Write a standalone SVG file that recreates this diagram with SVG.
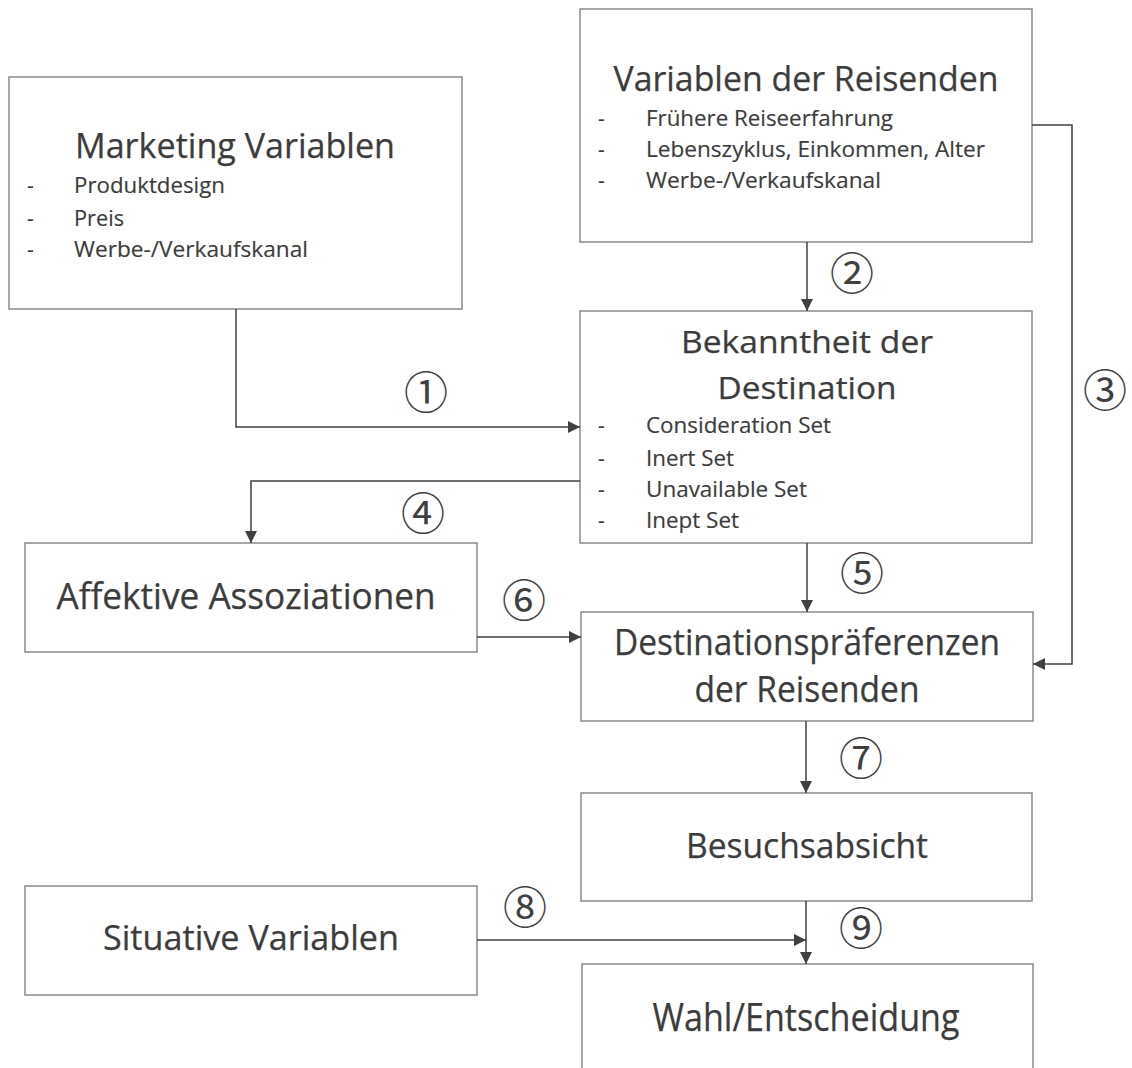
<svg xmlns="http://www.w3.org/2000/svg" width="1132" height="1068" viewBox="0 0 1132 1068">
<defs>
<style>
.box{fill:#fff;stroke:#8a8a8a;stroke-width:1.5}
.t{font-family:"Open Sans","Noto Sans","DejaVu Sans",sans-serif;fill:#3c3c3c;stroke:#3c3c3c;stroke-width:0.25;text-anchor:middle}
.b{font-family:"Open Sans","Noto Sans","DejaVu Sans",sans-serif;fill:#3c3c3c;stroke:#3c3c3c;stroke-width:0.15;font-size:21px}
.c{stroke:#404040;stroke-width:1.5;fill:none}
.n{font-family:"Noto Sans CJK JP","Noto Sans CJK SC","DejaVu Sans",sans-serif;fill:#404040;font-size:44px;text-anchor:middle;dominant-baseline:central}
</style>
<marker id="ah" markerUnits="userSpaceOnUse" markerWidth="12" markerHeight="12" refX="12" refY="6" orient="auto">
<path d="M0,0 L12,6 L0,12 Z" fill="#404040"/>
</marker>
</defs>
<rect width="1132" height="1068" fill="#fff"/>

<g id="marketing">
<rect class="box" x="9" y="77" width="453" height="232"/>
<text class="t" x="235" y="158" font-size="35" textLength="320" lengthAdjust="spacingAndGlyphs">Marketing Variablen</text>
<text class="b" x="27" y="193">-</text><text class="b" x="74" y="193" textLength="151" lengthAdjust="spacingAndGlyphs">Produktdesign</text>
<text class="b" x="27" y="226">-</text><text class="b" x="74" y="226" textLength="50" lengthAdjust="spacingAndGlyphs">Preis</text>
<text class="b" x="27" y="257">-</text><text class="b" x="74" y="257" textLength="234" lengthAdjust="spacingAndGlyphs">Werbe-/Verkaufskanal</text>
</g>

<g id="reisende">
<rect class="box" x="580" y="9" width="452" height="233"/>
<text class="t" x="806" y="91" font-size="35" textLength="385" lengthAdjust="spacingAndGlyphs">Variablen der Reisenden</text>
<text class="b" x="598" y="126">-</text><text class="b" x="646" y="126" textLength="247" lengthAdjust="spacingAndGlyphs">Frühere Reiseerfahrung</text>
<text class="b" x="598" y="157">-</text><text class="b" x="646" y="157" textLength="339" lengthAdjust="spacingAndGlyphs">Lebenszyklus, Einkommen, Alter</text>
<text class="b" x="598" y="188">-</text><text class="b" x="646" y="188" textLength="235" lengthAdjust="spacingAndGlyphs">Werbe-/Verkaufskanal</text>
</g>

<g id="bekanntheit">
<rect class="box" x="580" y="311" width="452" height="232"/>
<text class="t" x="807" y="353" font-size="31" textLength="252" lengthAdjust="spacingAndGlyphs">Bekanntheit der</text>
<text class="t" x="807" y="399" font-size="31" textLength="179" lengthAdjust="spacingAndGlyphs">Destination</text>
<text class="b" x="598" y="433">-</text><text class="b" x="646" y="433" textLength="185" lengthAdjust="spacingAndGlyphs">Consideration Set</text>
<text class="b" x="598" y="466">-</text><text class="b" x="646" y="466" textLength="88" lengthAdjust="spacingAndGlyphs">Inert Set</text>
<text class="b" x="598" y="497">-</text><text class="b" x="646" y="497" textLength="161" lengthAdjust="spacingAndGlyphs">Unavailable Set</text>
<text class="b" x="598" y="528">-</text><text class="b" x="646" y="528" textLength="93" lengthAdjust="spacingAndGlyphs">Inept Set</text>
</g>

<g id="affektive">
<rect class="box" x="25" y="543" width="452" height="109"/>
<text class="t" x="246" y="609" font-size="36" textLength="379" lengthAdjust="spacingAndGlyphs">Affektive Assoziationen</text>
</g>

<g id="praeferenzen">
<rect class="box" x="581" y="612" width="452" height="109"/>
<text class="t" x="807" y="655" font-size="36" textLength="386" lengthAdjust="spacingAndGlyphs">Destinationspräferenzen</text>
<text class="t" x="807" y="702" font-size="36" textLength="225" lengthAdjust="spacingAndGlyphs">der Reisenden</text>
</g>

<g id="besuchsabsicht">
<rect class="box" x="581" y="793" width="451" height="108"/>
<text class="t" x="807" y="858" font-size="35" textLength="242" lengthAdjust="spacingAndGlyphs">Besuchsabsicht</text>
</g>

<g id="situative">
<rect class="box" x="25" y="886" width="452" height="109"/>
<text class="t" x="251" y="950" font-size="34" textLength="296" lengthAdjust="spacingAndGlyphs">Situative Variablen</text>
</g>

<g id="wahl">
<path class="box" d="M582,1070 V964 H1033 V1070"/>
<text class="t" x="806" y="1031" font-size="38" textLength="307" lengthAdjust="spacingAndGlyphs">Wahl/Entscheidung</text>
</g>

<g id="connectors">
<path class="c" d="M236,309 V427 H580" marker-end="url(#ah)"/>
<path class="c" d="M807,242 V311" marker-end="url(#ah)"/>
<path class="c" d="M1032,125 H1072 V664 H1033" marker-end="url(#ah)"/>
<path class="c" d="M580,481 H251 V543" marker-end="url(#ah)"/>
<path class="c" d="M807,543 V612" marker-end="url(#ah)"/>
<path class="c" d="M477,637 H581" marker-end="url(#ah)"/>
<path class="c" d="M806,721 V793" marker-end="url(#ah)"/>
<path class="c" d="M477,940 H806" marker-end="url(#ah)"/>
<path class="c" d="M806,901 V964" marker-end="url(#ah)"/>
</g>

<g id="labels">
<text class="n" x="426" y="390">①</text>
<text class="n" x="852" y="271">②</text>
<text class="n" x="1105" y="388">③</text>
<text class="n" x="423" y="511">④</text>
<text class="n" x="862" y="571">⑤</text>
<text class="n" x="524" y="598">⑥</text>
<text class="n" x="861" y="756">⑦</text>
<text class="n" x="525" y="905">⑧</text>
<text class="n" x="861" y="926">⑨</text>
</g>
</svg>
